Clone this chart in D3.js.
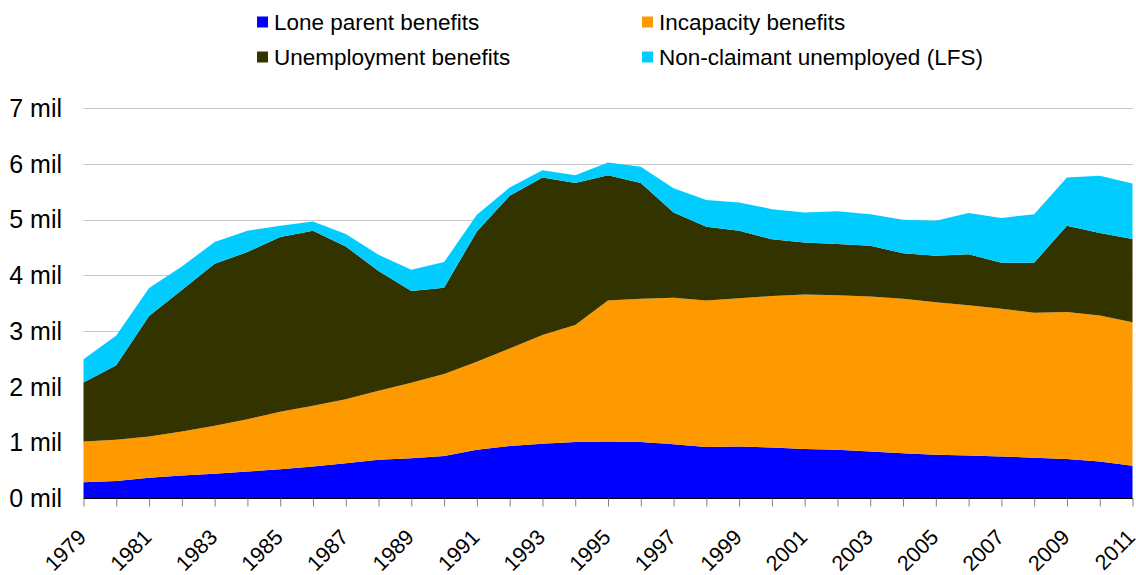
<!DOCTYPE html>
<html>
<head>
<meta charset="utf-8">
<script src="https://cdn.jsdelivr.net/npm/d3@7"></script>
<style>
  html, body { margin: 0; padding: 0; background: #fff; }
  svg { display: block; font-family: Arial, "Liberation Sans", sans-serif; }
</style>
</head>
<body>
<svg id="chart" width="1136" height="575"></svg>
<script>
const years = d3.range(1979, 2012);
const loneParent = [0.29,0.31,0.37,0.41,0.44,0.48,0.52,0.57,0.63,0.69,0.72,0.76,0.87,0.94,0.98,1.01,1.02,1.01,0.97,0.92,0.93,0.91,0.885,0.87,0.84,0.81,0.78,0.77,0.75,0.73,0.705,0.66,0.585];
const incapacity = [0.73,0.74,0.74,0.79,0.86,0.94,1.035,1.09,1.15,1.24,1.355,1.47,1.58,1.75,1.95,2.10,2.53,2.57,2.63,2.63,2.66,2.72,2.775,2.775,2.78,2.77,2.74,2.695,2.65,2.60,2.64,2.62,2.575];
const unemployment = [1.06,1.34,2.16,2.54,2.91,3.00,3.135,3.14,2.74,2.15,1.645,1.55,2.34,2.74,2.83,2.55,2.25,2.08,1.53,1.325,1.21,1.02,0.93,0.92,0.915,0.82,0.835,0.915,0.83,0.90,1.545,1.48,1.495];
const nonClaimant = [0.415,0.53,0.505,0.42,0.39,0.38,0.20,0.17,0.225,0.29,0.38,0.46,0.30,0.15,0.13,0.14,0.225,0.29,0.435,0.48,0.51,0.54,0.54,0.585,0.565,0.60,0.625,0.74,0.80,0.87,0.87,1.03,0.995];
const seriesNames = ["Lone parent benefits","Incapacity benefits","Unemployment benefits","Non-claimant unemployed (LFS)"];
const seriesKeys = ["lone","incap","unemp","nonclaim"];
const seriesColors = ["#0000FF","#FF9900","#333300","#00CCFF"];
const yTicks = [0,1,2,3,4,5,6,7];
const yTickLabels = yTicks.map(v => v + " mil");
const xLabelYears = years.filter(y => (y - 1979) % 2 === 0);

const table = years.map((y, i) => ({year: y, lone: loneParent[i], incap: incapacity[i], unemp: unemployment[i], nonclaim: nonClaimant[i]}));

const svg = d3.select("#chart");
const x = d3.scaleLinear().domain([1979, 2011]).range([83.5, 1132.5]);
const y = d3.scaleLinear().domain([0, 7]).range([498.3, 108.3]);

// gridlines
svg.append("g").selectAll("line").data(yTicks.filter(v => v > 0)).join("line")
  .attr("x1", 83.5).attr("x2", 1133).attr("y1", d => Math.round(y(d)) + 0.5).attr("y2", d => Math.round(y(d)) + 0.5)
  .attr("stroke", "#c8c8c8").attr("stroke-width", 1);

// stacked areas
const stack = d3.stack().keys(seriesKeys);
const layers = stack(table);
const area = d3.area().x(d => x(d.data.year)).y0(d => y(d[0])).y1(d => y(d[1]));
svg.append("g").selectAll("path").data(layers).join("path")
  .attr("d", area).attr("fill", (d, i) => seriesColors[i]);

// x axis baseline and ticks
const xAxis = d3.axisBottom(x).tickValues(years).tickSize(8).tickFormat("");
const gx = svg.append("g").attr("transform", `translate(0,${Math.round(y(0)) + 0.5})`).call(xAxis);
gx.select(".domain").attr("stroke", "#000").attr("d", `M83.5,0H1133`);
gx.selectAll(".tick line").attr("stroke", "#808080");

// x labels
svg.append("g").selectAll("text").data(xLabelYears).join("text")
  .attr("transform", d => `translate(${x(d) + 4},538.5) rotate(-45)`)
  .attr("text-anchor", "end").attr("font-size", 21.5).attr("fill", "#000")
  .text(d => d);

// y labels
svg.append("g").selectAll("text").data(yTicks).join("text")
  .attr("x", 62).attr("y", d => y(d)).attr("dy", "0.35em")
  .attr("text-anchor", "end").attr("font-size", 25).attr("fill", "#000")
  .text((d, i) => yTickLabels[i]);

// legend
const legendPos = [[257, 22], [642, 22], [257, 57], [642, 57]];
const leg = svg.append("g").selectAll("g").data(seriesNames).join("g")
  .attr("transform", (d, i) => `translate(${legendPos[i][0]},${legendPos[i][1]})`);
leg.append("rect").attr("x", 0).attr("y", -5.5).attr("width", 11).attr("height", 11)
  .attr("fill", (d, i) => seriesColors[i]);
leg.append("text").attr("x", 17).attr("y", 0).attr("dy", "0.35em")
  .attr("font-size", 22.5).attr("fill", "#000").text(d => d);
</script>
</body>
</html>
